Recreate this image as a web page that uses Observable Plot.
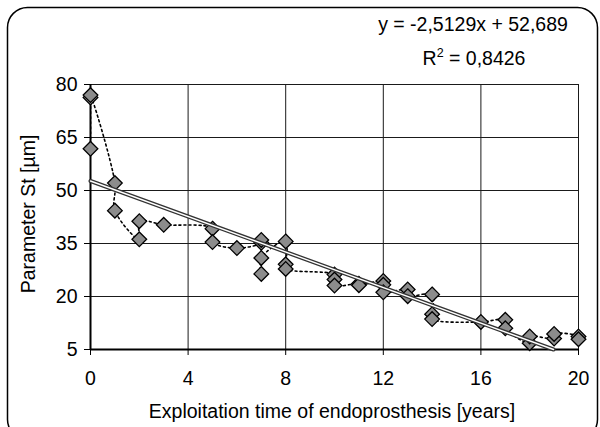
<!DOCTYPE html>
<html><head><meta charset="utf-8">
<script src="https://cdn.jsdelivr.net/npm/d3@7"></script>
<script src="https://cdn.jsdelivr.net/npm/@observablehq/plot@0.6"></script>
<style>
body{margin:0;background:#fff;}
#chart{width:600px;height:427px;overflow:hidden;position:relative;}
#chart svg{overflow:hidden;}
</style>
</head><body><div id="chart"></div>
<script>
// Data (in the order the dotted series line connects them)
const years = [0,0,0, 1,1, 2,2, 3, 5,5, 6, 7,7,7,7, 8,8,8, 10,10,10, 11,11, 12,12,12, 13,13, 14,14,14, 16, 17,17, 18,18, 19,19, 20,20];
const stValues = [61.8,76.3,77.0, 52.1,44.3, 36.2,41.3, 40.3, 39.2,35.4, 33.7, 35.2,36.0,26.4,30.9, 35.6,29.1,27.8, 26.2,24.8,23.1, 23.6,23.2, 24.4,23.3,21.2, 22.0,20.1, 20.6,15.0,13.6, 12.8, 13.4,11.0, 6.8,8.7, 8.1,9.4, 8.7,7.9];
const xTicks = [0,4,8,12,16,20];
const yTicks = [5,20,35,50,65,80];
const trendSlope = -2.5129;
const trendIntercept = 52.689;
const equationText = "y = -2,5129x + 52,689";
const r2Value = "0,8426";
const xLabel = "Exploitation time of endoprosthesis [years]";
const yLabel = "Parameter St [µm]";

const points = years.map((x, i) => ({x, y: stValues[i]}));
const yMin = yTicks[0], yMax = yTicks[yTicks.length - 1];
const trendEndX = (yMin - trendIntercept) / trendSlope;
const trend = [
  {x: xTicks[0], y: trendSlope * xTicks[0] + trendIntercept},
  {x: trendEndX, y: trendSlope * trendEndX + trendIntercept}
];

const FS = 19.5;
const chart = Plot.plot({
  width: 600,
  height: 427,
  marginLeft: 90,
  marginRight: 22,
  marginTop: 84,
  marginBottom: 78,
  style: {fontFamily: "'Liberation Sans', Arial, sans-serif", fontSize: FS + "px", background: "transparent", color: "#000"},
  x: {domain: [xTicks[0], xTicks[xTicks.length - 1]]},
  y: {domain: [yMin, yMax]},
  marks: [
    Plot.gridX(xTicks, {stroke: "#1a1a1a", strokeOpacity: 1, strokeWidth: 1}),
    Plot.gridY(yTicks, {stroke: "#1a1a1a", strokeOpacity: 1, strokeWidth: 1}),
    Plot.line(points, {x: "x", y: "y", curve: "catmull-rom", stroke: "#000", strokeWidth: 1.6, strokeDasharray: "2,3", clip: true}),
    Plot.ruleX([xTicks[0]], {stroke: "#000", strokeWidth: 2}),
    Plot.ruleY([yMin], {stroke: "#000", strokeWidth: 2.2}),
    Plot.axisY({ticks: yTicks, tickSize: 6, tickPadding: 7, label: null, stroke: "#000"}),
    Plot.axisX({ticks: xTicks, tickSize: 6, tickPadding: 16, label: null, stroke: "#000"}),
    Plot.dot(points, {x: "x", y: "y", symbol: "diamond2", r: 6.6, fill: "#8c8c8c", stroke: "#000", strokeWidth: 1.3}),
    Plot.line(trend, {x: "x", y: "y", stroke: "#333", strokeWidth: 4}),
    Plot.line(trend, {x: "x", y: "y", stroke: "#fff", strokeWidth: 1.4})
  ]
});

document.getElementById("chart").appendChild(chart);

const svg = d3.select(chart);
svg.insert("rect", ":first-child")
  .attr("x", 7.5).attr("y", 7.5).attr("width", 590).attr("height", 432)
  .attr("rx", 20).attr("ry", 20)
  .attr("fill", "none").attr("stroke", "#000").attr("stroke-width", 1.5);

const font = "'Liberation Sans', Arial, sans-serif";
svg.append("text")
  .attr("x", 473).attr("y", 31)
  .attr("text-anchor", "middle").attr("font-family", font).attr("font-size", FS).attr("fill", "#000")
  .text(equationText);
const r2 = svg.append("text")
  .attr("x", 474).attr("y", 65)
  .attr("text-anchor", "middle").attr("font-family", font).attr("font-size", FS).attr("fill", "#000");
r2.append("tspan").text("R");
r2.append("tspan").attr("font-size", 12.5).attr("dy", -8).text("2");
r2.append("tspan").attr("dy", 8).text(" = " + r2Value);

svg.append("text")
  .attr("x", 332).attr("y", 418)
  .attr("text-anchor", "middle").attr("font-family", font).attr("font-size", FS).attr("fill", "#000")
  .text(xLabel);
svg.append("text")
  .attr("transform", "translate(35,214) rotate(-90)")
  .attr("text-anchor", "middle").attr("font-family", font).attr("font-size", FS).attr("fill", "#000")
  .text(yLabel);
</script>
</body></html>
